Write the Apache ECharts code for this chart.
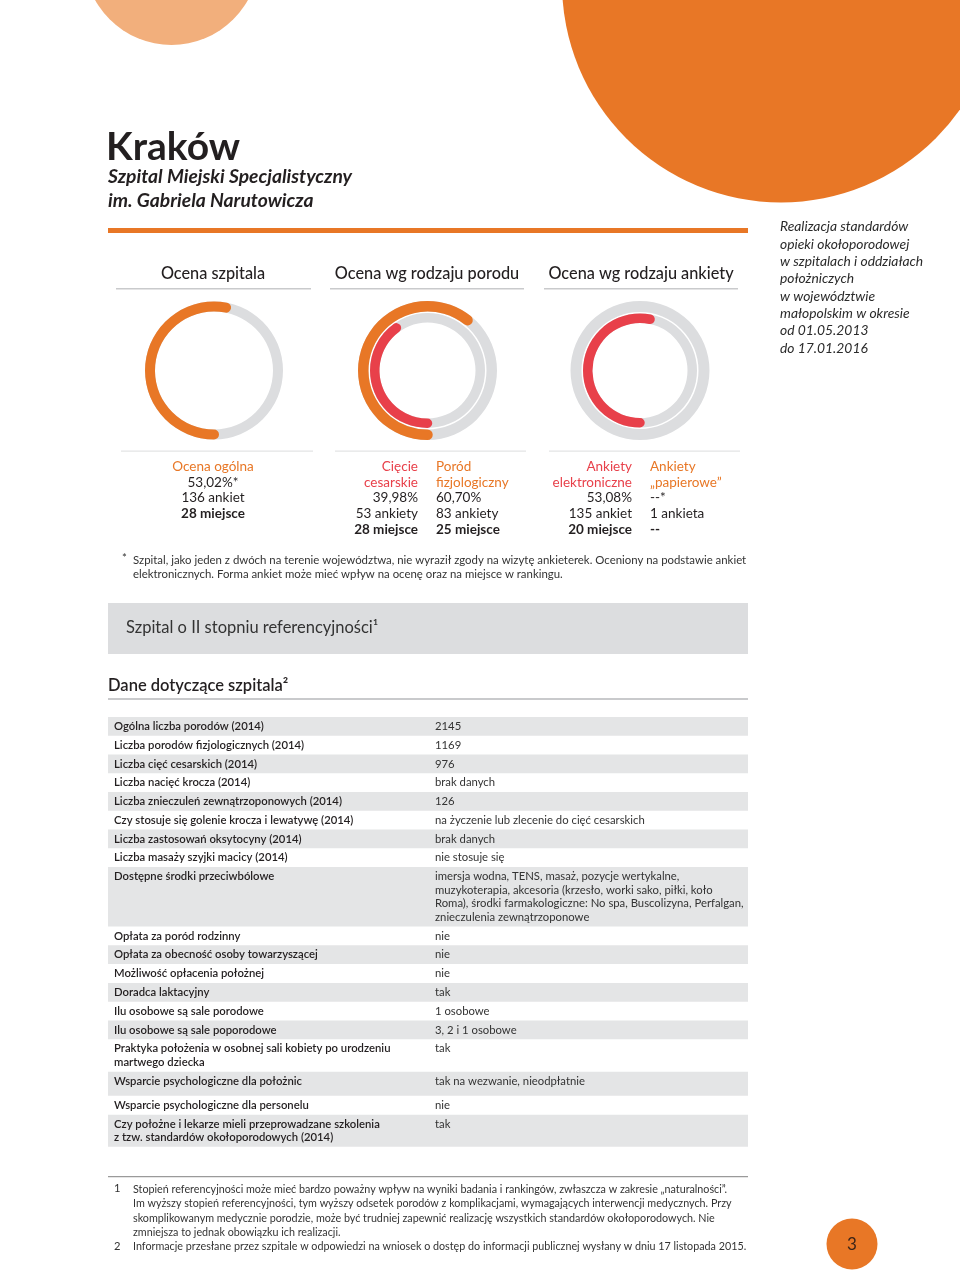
<!DOCTYPE html>
<html><head><meta charset="utf-8">
<script src="https://cdn.jsdelivr.net/npm/echarts@6/dist/echarts.min.js"></script>
<style>html,body{margin:0;padding:0;background:#fff}#c{width:960px;height:1276px}</style>
</head><body><div id="c"></div>
<script>
// ---------- DATA ----------
const cityName = 'Kraków';
const hospitalName = ['Szpital Miejski Specjalistyczny', 'im. Gabriela Narutowicza'];
const sideNote = ['Realizacja standardów','opieki okołoporodowej','w szpitalach i oddziałach','położniczych','w województwie','małopolskim w okresie','od 01.05.2013','do 17.01.2016'];
const gaugeTitles = ['Ocena szpitala', 'Ocena wg rodzaju porodu', 'Ocena wg rodzaju ankiety'];
const overallScore = 53.02;                 // Ocena ogólna
const birthTypeScores = [39.98, 60.70];     // Cięcie cesarskie, Poród fizjologiczny
const surveyTypeScores = [53.08, null];     // Ankiety elektroniczne, Ankiety „papierowe”
const overallText = ['Ocena ogólna', '53,02%*', '136 ankiet', '28 miejsce'];
const cesareanText = ['Cięcie', 'cesarskie', '39,98%', '53 ankiety', '28 miejsce'];
const naturalText = ['Poród', 'fizjologiczny', '60,70%', '83 ankiety', '25 miejsce'];
const electronicText = ['Ankiety', 'elektroniczne', '53,08%', '135 ankiet', '20 miejsce'];
const paperText = ['Ankiety', '„papierowe”', '--*', '1 ankieta', '--'];
const starNote = ['Szpital, jako jeden z dwóch na terenie województwa, nie wyraził zgody na wizytę ankieterek. Oceniony na podstawie ankiet', 'elektronicznych. Forma ankiet może mieć wpływ na ocenę oraz na miejsce w rankingu.'];
const referenceLevel = 'Szpital o II stopniu referencyjności¹';
const tableTitle = 'Dane dotyczące szpitala²';
const tableLabels = [
 'Ogólna liczba porodów (2014)',
 'Liczba porodów fizjologicznych (2014)',
 'Liczba cięć cesarskich (2014)',
 'Liczba nacięć krocza (2014)',
 'Liczba znieczuleń zewnątrzoponowych (2014)',
 'Czy stosuje się golenie krocza i lewatywę (2014)',
 'Liczba zastosowań oksytocyny (2014)',
 'Liczba masaży szyjki macicy (2014)',
 'Dostępne środki przeciwbólowe',
 'Opłata za poród rodzinny',
 'Opłata za obecność osoby towarzyszącej',
 'Możliwość opłacenia położnej',
 'Doradca laktacyjny',
 'Ilu osobowe są sale porodowe',
 'Ilu osobowe są sale poporodowe',
 'Praktyka położenia w osobnej sali kobiety po urodzeniu\nmartwego dziecka',
 'Wsparcie psychologiczne dla położnic',
 'Wsparcie psychologiczne dla personelu',
 'Czy położne i lekarze mieli przeprowadzane szkolenia\nz tzw. standardów okołoporodowych (2014)'
];
const tableValues = [
 '2145', '1169', '976', 'brak danych', '126',
 'na życzenie lub zlecenie do cięć cesarskich',
 'brak danych', 'nie stosuje się',
 'imersja wodna, TENS, masaż, pozycje wertykalne,\nmuzykoterapia, akcesoria (krzesło, worki sako, piłki, koło\nRoma), środki farmakologiczne: No spa, Buscolizyna, Perfalgan,\nznieczulenia zewnątrzoponowe',
 'nie', 'nie', 'nie', 'tak', '1 osobowe', '3, 2 i 1 osobowe', 'tak',
 'tak na wezwanie, nieodpłatnie', 'nie', 'tak'
];
const footnotes = [
 ['1', 'Stopień referencyjności może mieć bardzo poważny wpływ na wyniki badania i rankingów, zwłaszcza w zakresie „naturalności”.\nIm wyższy stopień referencyjności, tym wyższy odsetek porodów z komplikacjami, wymagających interwencji medycznych. Przy\nskomplikowanym medycznie porodzie, może być trudniej zapewnić realizację wszystkich standardów okołoporodowych. Nie\nzmniejsza to jednak obowiązku ich realizacji.'],
 ['2', 'Informacje przesłane przez szpitale w odpowiedzi na wniosek o dostęp do informacji publicznej wysłany w dniu 17 listopada 2015.']
];
const pageNumber = '3';

// ---------- LAYOUT / STYLE ----------
const ORANGE = '#E87726', RED = '#E8404A', TRACK = '#DCDDDF', INK = '#231F20', LINE = '#C9CACC';
const FF = 'Lato, "Noto Sans", sans-serif';
const rowHeights = [18.75,18.75,18.75,18.75,18.75,18.75,18.75,18.75,59.5,18.8,18.8,18.8,18.8,18.8,18.8,32.5,24,19,32];
const G = [];
function T(text, x, y, size, o) {
  o = o || {};
  G.push({type:'text', x:x, y:y, silent:true, style:{
    text:text, fill:o.fill||INK, align:o.align||'left', verticalAlign:o.va||'middle',
    font:(o.style||'normal')+' '+(o.weight||'normal')+' '+size+'px '+FF,
    lineHeight:o.lh||size*1.2
  }});
}
function R(x, y, w, h, fill) { G.push({type:'rect', silent:true, shape:{x:x,y:y,width:w,height:h}, style:{fill:fill}}); }
function C(cx, cy, r, fill) { G.push({type:'circle', silent:true, shape:{cx:cx,cy:cy,r:r}, style:{fill:fill}}); }

// decorative circles
C(171.5, -42.5, 87.5, '#F2AF7C');
C(781, -16.6, 219, ORANGE);

// header
T(cityName, 106, 147, 39, {weight:'bold'});
T(hospitalName[0], 108, 177, 19.3, {style:'italic', weight:'bold'});
T(hospitalName[1], 108, 201, 19.3, {style:'italic', weight:'bold'});
R(108, 228, 640, 5, ORANGE);
sideNote.forEach((s, i) => T(s, 780, 227 + i*17.3, 13.85, {style:'italic', weight:'normal', fill:'#2b2b2b'}));

// section titles and rules
const colX = [213, 427, 641];
const ruleX = [[116, 311], [330, 524], [544, 738]];
gaugeTitles.forEach((t, i) => {
  T(t, colX[i], 274, 16.3, {align:'center', weight:500});
  R(ruleX[i][0], 288, ruleX[i][1]-ruleX[i][0], 1.5, LINE);
  R(ruleX[i][0]+5, 450.5, ruleX[i][1]-ruleX[i][0]-3, 1.2, '#E3E4E5');
});

// stats text
const statY = [467, 482.5, 498, 514, 529.5];
T(overallText[0], 213, statY[0], 13.5, {align:'center', fill:ORANGE});
T(overallText[1], 213, statY[1], 13.5, {align:'center'});
T(overallText[2], 213, statY[2], 13.5, {align:'center'});
T(overallText[3], 213, statY[3], 13.5, {align:'center', weight:'bold'});
function statCol(arr, x, align, color) {
  arr.forEach((s, i) => T(s, x, statY[i], 13.5, {align:align, fill: i<2 ? color : INK, weight: i===4 ? 'bold':'normal'}));
}
statCol(cesareanText, 418, 'right', RED);
statCol(naturalText, 436, 'left', ORANGE);
statCol(electronicText, 632, 'right', RED);
statCol(paperText, 650, 'left', ORANGE);

// star note
T('*', 122, 558, 11.4, {fill:'#333'});
starNote.forEach((s, i) => T(s, 133, 560 + i*14.5, 11.4, {fill:'#333'}));

// reference box
R(108, 603, 640, 51, '#DCDDDF');
T(referenceLevel, 126, 628, 16.5, {fill:'#333'});

// table
T(tableTitle, 108, 686, 16.5, {weight:600});
R(108, 698, 640, 2, LINE);
let yy = 717;
tableLabels.forEach((lab, i) => {
  const h = rowHeights[i];
  if (i % 2 === 0) R(108, yy, 640, h, '#E4E5E6');
  T(lab, 114, yy + 2.7, 11.3, {va:'top', weight:600, lh:13.5});
  T(tableValues[i], 435, yy + 2.7, 11.3, {va:'top', lh:13.5, fill:'#333'});
  yy += h;
});

// footnotes
R(108, 1176, 640, 1.2, '#9A9A9A');
T(footnotes[0][0], 114, 1182, 11.2, {va:'top', fill:'#333'});
T(footnotes[0][1], 133, 1182, 10.75, {va:'top', fill:'#333', lh:14.5});
T(footnotes[1][0], 114, 1240, 11.2, {va:'top', fill:'#333'});
T(footnotes[1][1], 133, 1240, 10.75, {va:'top', fill:'#333'});

// page number
C(852, 1244, 25.5, ORANGE);
T(pageNumber, 852, 1245, 17, {align:'center', fill:'#3a2418'});

// ---------- GAUGES ----------
function ring(cx, cy, r, w, value, color) {
  return {
    type:'gauge', center:[cx, cy], radius:r, startAngle:270, endAngle:-90, clockwise:true,
    min:0, max:100, silent:true, animation:false,
    pointer:{show:false}, anchor:{show:false}, axisTick:{show:false}, splitLine:{show:false},
    axisLabel:{show:false}, title:{show:false}, detail:{show:false},
    axisLine:{roundCap:false, lineStyle:{width:w, color:[[1, TRACK]]}},
    progress:{show:value != null, width:w, roundCap:true, itemStyle:{color:color}},
    data:[{value: value == null ? 0 : value}]
  };
}
const series = [
  ring(214, 370.5, 69, 10, overallScore, ORANGE),
  ring(427.5, 370.5, 69.5, 10.5, birthTypeScores[1], ORANGE),
  ring(427.5, 370.5, 57.5, 9.5, birthTypeScores[0], RED),
  ring(640, 370.5, 69.5, 11, surveyTypeScores[1], ORANGE),
  ring(640, 370.5, 57, 9.5, surveyTypeScores[0], RED)
];

const chart = echarts.init(document.getElementById('c'), null, {renderer:'canvas'});
chart.setOption({animation:false, series:series, graphic:{elements:G}});
</script></body></html>
